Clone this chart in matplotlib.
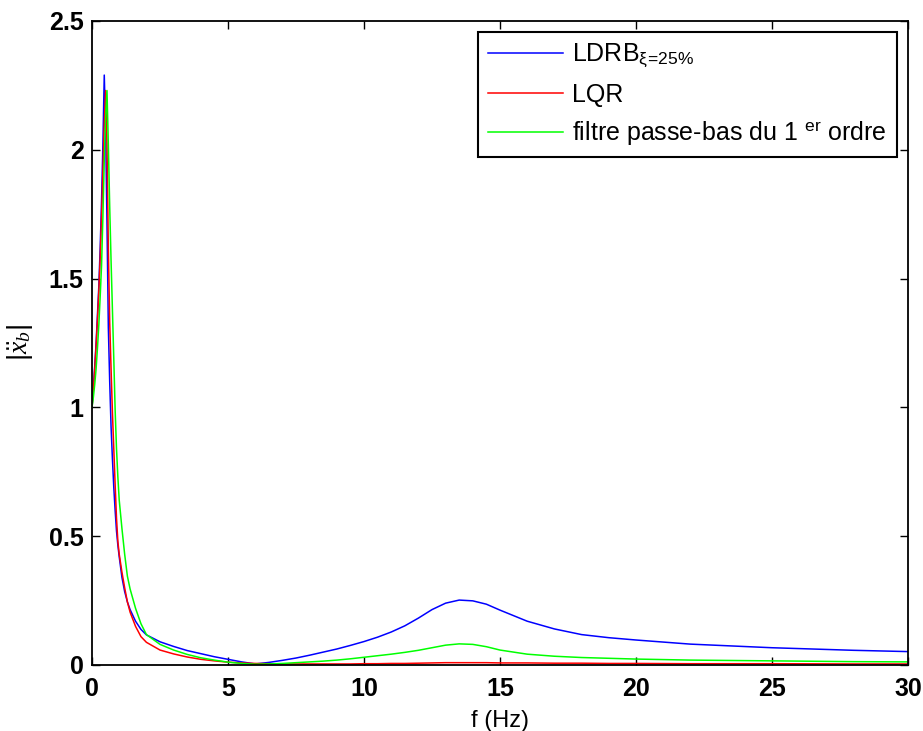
#!/usr/bin/env python3

"""
Acceleration |x_b''| vs frequency for LDRB, LQR and first-order low-pass filter
"""

import matplotlib
matplotlib.use("Agg")
import matplotlib.pyplot as plt

plt.rcParams['font.family'] = ['Liberation Sans', 'DejaVu Sans']
plt.rcParams['mathtext.fontset'] = 'custom'
plt.rcParams['mathtext.rm'] = 'Liberation Sans'
plt.rcParams['mathtext.it'] = 'Liberation Serif:italic'

# frequency grid (Hz)
freq = [0, 0.05, 0.1, 0.15, 0.2, 0.25, 0.3, 0.35, 0.4, 0.45, 0.5,
        0.55, 0.6, 0.65, 0.7, 0.75, 0.8, 0.85, 0.9, 0.95, 1.0,
        1.1, 1.2, 1.3, 1.4, 1.6, 1.8, 2.0,
        2.5, 3.0, 3.5, 4.0, 4.5, 5.0, 5.5, 6.0, 6.5, 7.0, 7.5, 8.0, 8.5,
        9.0, 9.5, 10, 10.5, 11, 11.5, 12, 12.5, 13, 13.5, 14, 14.5, 15,
        16, 17, 18, 19, 20, 22, 25, 28, 30]

ldrb = [1.00, 1.08, 1.16, 1.25, 1.36, 1.47, 1.62, 1.80, 2.02, 2.29, 2.08,
        1.72, 1.31, 1.10, 0.925, 0.80, 0.69, 0.60, 0.52, 0.465, 0.42,
        0.34, 0.285, 0.245, 0.215, 0.170, 0.138, 0.117,
        0.090, 0.072, 0.056, 0.044, 0.032, 0.022, 0.012, 0.004, 0.010, 0.018, 0.027, 0.038, 0.050,
        0.062, 0.076, 0.091, 0.108, 0.128, 0.152, 0.182, 0.215, 0.240, 0.252, 0.249, 0.236, 0.213,
        0.170, 0.140, 0.118, 0.106, 0.097, 0.081, 0.067, 0.057, 0.052]

lqr = [1.00, 1.07, 1.15, 1.24, 1.34, 1.45, 1.58, 1.74, 1.92, 2.10, 2.23,
       2.02, 1.62, 1.33, 1.15, 0.98, 0.84, 0.70, 0.57, 0.48, 0.43,
       0.36, 0.30, 0.245, 0.205, 0.150, 0.110, 0.088,
       0.058, 0.043, 0.031, 0.022, 0.016, 0.011, 0.008, 0.006, 0.005, 0.004, 0.004, 0.004, 0.004,
       0.004, 0.004, 0.005, 0.005, 0.006, 0.006, 0.007, 0.008, 0.009, 0.009, 0.009, 0.009, 0.008,
       0.008, 0.007, 0.007, 0.006, 0.006, 0.005, 0.005, 0.004, 0.004]

filtre = [1.00, 1.04, 1.09, 1.15, 1.23, 1.32, 1.43, 1.55, 1.74, 1.96, 2.13,
          2.23, 2.02, 1.78, 1.57, 1.38, 1.19, 0.99, 0.84, 0.73, 0.64,
          0.53, 0.43, 0.345, 0.295, 0.22, 0.16, 0.118,
          0.080, 0.058, 0.041, 0.028, 0.019, 0.011, 0.006, 0.003, 0.004, 0.006, 0.009, 0.012, 0.015,
          0.019, 0.024, 0.030, 0.036, 0.042, 0.049, 0.057, 0.067, 0.077, 0.082, 0.080, 0.071, 0.058,
          0.042, 0.034, 0.029, 0.026, 0.023, 0.019, 0.016, 0.013, 0.012]

labels = [r"LDRB$_{\mathrm{\xi\!=\!25\%}}$", "LQR",
          r"filtre passe-bas du 1 $^{\mathrm{er}}$ ordre"]

fig = plt.figure(figsize=(9.23, 7.31), dpi=100)
ax = fig.add_axes([0.0997, 0.0903, 0.884, 0.881])

ax.plot(freq, ldrb, color=(0, 0, 1), lw=1.1, label=labels[0])
ax.plot(freq, lqr, color=(1, 0, 0), lw=1.1, label=labels[1])
ax.plot(freq, filtre, color=(0, 1, 0), lw=1.1, label=labels[2])

ax.set_xlim(0, 30)
ax.set_ylim(0, 2.5)
ax.set_xticks([0, 5, 10, 15, 20, 25, 30])
ax.set_yticks([0, 0.5, 1, 1.5, 2, 2.5])
ax.set_yticklabels(["0", "0.5", "1", "1.5", "2", "2.5"])

ax.tick_params(direction="in", length=6, width=1, top=True, right=True,
               labelsize=18)
ax.tick_params(axis="x", pad=9)
ax.tick_params(axis="y", pad=6)
for lab in ax.get_xticklabels() + ax.get_yticklabels():
    lab.set_fontweight("bold")
for s in ax.spines.values():
    s.set_linewidth(1.3)

ax.set_xlabel("f (Hz)", fontsize=17, labelpad=6)
ax.set_ylabel(r"$|\ddot{x}_b|$", fontsize=20, labelpad=10)

leg = ax.legend(loc="upper right", fontsize=18, fancybox=False, framealpha=1,
                edgecolor="black", handlelength=3.0, handletextpad=0.35,
                borderaxespad=0.45, labelspacing=0.5)
leg.get_frame().set_linewidth(1.5)

fig.savefig("out.png", dpi=100)
plt.close(fig)
